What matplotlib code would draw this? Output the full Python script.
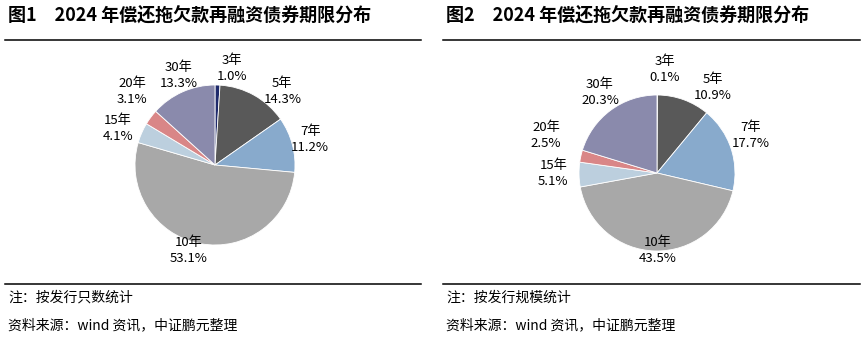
import numpy as np
import matplotlib.pyplot as plt
from matplotlib.lines import Line2D

plt.rcParams['font.family'] = ['Noto Sans CJK SC', 'DejaVu Sans']

terms = ['3年', '5年', '7年', '10年', '15年', '20年', '30年']
share_count = [1.0, 14.3, 11.2, 53.1, 4.1, 3.1, 13.3]
share_scale = [0.1, 10.9, 17.7, 43.5, 5.1, 2.5, 20.3]

titles = ['图1　2024 年偿还拖欠款再融资债券期限分布',
          '图2　2024 年偿还拖欠款再融资债券期限分布']
notes = ['注：按发行只数统计', '注：按发行规模统计']
source = '资料来源：wind 资讯，中证鹏元整理'

colors = ['#1f2a6b', '#595959', '#88aacc', '#a8a8a8', '#bccfde', '#d98687', '#8a8aac']

# label placement tweaks (distance in radii, angle nudge in degrees)
lab_dist = [[1.23, 1.25, 1.23, 1.12, 1.30, 1.38, 1.21],
            [1.33, 1.31, 1.29, 0.99, 1.33, 1.50, 1.26]]
lab_rot = [[-8, -13, 0, -6, 3, -5, -2],
           [-4, -13, 3, 2, -1, -6, -1]]

W, H = 862, 340
fig = plt.figure(figsize=(W / 100, H / 100), dpi=100)


def px_axes(cx, cy, half):
    return fig.add_axes([(cx - half) / W, 1 - (cy + half) / H, 2 * half / W, 2 * half / H])


def draw_pie(ax, vals, r_px, k):
    wedges, _ = ax.pie(vals, colors=colors, startangle=90, counterclock=False,
                       wedgeprops=dict(edgecolor='white', linewidth=0.6))
    for i, w in enumerate(wedges):
        th = np.deg2rad((w.theta1 + w.theta2) / 2 + lab_rot[k][i])
        d = lab_dist[k][i]
        ax.text(d * np.cos(th), d * np.sin(th), '%s\n%.1f%%' % (terms[i], vals[i]),
                ha='center', va='center', fontsize=9.5, linespacing=1.3)
    lim = 110 / r_px
    ax.set_xlim(-lim, lim)
    ax.set_ylim(-lim, lim)
    ax.set_aspect('equal')
    ax.axis('off')


ax1 = px_axes(215, 165, 110)
draw_pie(ax1, share_count, 80, 0)
ax2 = px_axes(657, 173, 110)
draw_pie(ax2, share_scale, 78, 1)

for k, x0, x1 in [(0, 5, 421), (1, 443, 860)]:
    fig.text((x0 + 3) / W, 1 - 15 / H, titles[k], fontsize=13, fontweight='bold',
             ha='left', va='center')
    fig.add_artist(Line2D([x0 / W, x1 / W], [1 - 40 / H, 1 - 40 / H], color='black', lw=1.1))
    fig.add_artist(Line2D([x0 / W, x1 / W], [1 - 284 / H, 1 - 284 / H], color='black', lw=1.1))
    fig.text((x0 + 3) / W, 1 - 298 / H, notes[k], fontsize=10, ha='left', va='center')
    fig.text((x0 + 3) / W, 1 - 325 / H, source, fontsize=10, ha='left', va='center')

fig.savefig('out.png', dpi=100)
